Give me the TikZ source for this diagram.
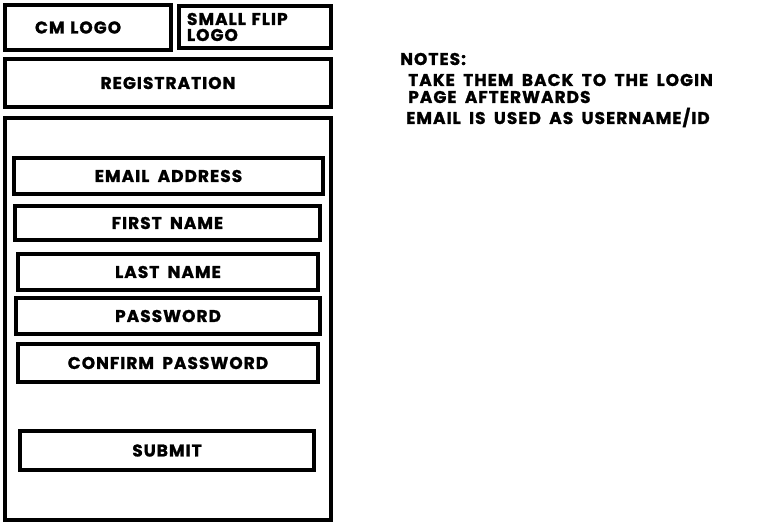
\documentclass[tikz,border=0pt]{standalone}
\usepackage{fontspec}
\setmainfont{Poppins}[LetterSpace=6, WordSpace=1.8, FakeBold=1.2]
\begin{document}
\begin{tikzpicture}[x=1pt, y=-1pt, font=\fontsize{17}{17}\selectfont\bfseries, line join=miter,
	box/.style={draw, line width=4pt, rectangle, inner sep=0pt}]
	\useasboundingbox (0,0) rectangle (765,526);
	% top row
	\node[box, minimum width=166pt, minimum height=45pt, text width=106pt, align=left] (cmlogo) at (88,27.5) {CM LOGO};
	\node[box, minimum width=152pt, minimum height=42pt, text width=136pt, align=left,
		font=\fontsize{17}{16}\selectfont\bfseries] (fliplogo) at (255,27) {SMALL FLIP\\LOGO};
	\node[box, minimum width=326pt, minimum height=48pt] (registration) at (168,83) {REGISTRATION};
	% form panel
	\node[box, minimum width=326pt, minimum height=402pt] (panel) at (168,319) {};
	\foreach \n/\x/\y/\w/\h/\t in {email/168.5/176/309/36/EMAIL ADDRESS,
		first/167.5/223/305/34/FIRST NAME,
		last/168/272/300/36/LAST NAME,
		password/168/316/304/36/PASSWORD,
		confirm/168/363/300/38/CONFIRM PASSWORD,
		submit/167/450.5/294/39/SUBMIT}
		\node[box, minimum width=\w pt, minimum height=\h pt] (\n) at (\x,\y) {\t};
	% notes
	\node[anchor=base west, inner sep=0pt] (notes) at (400,65) {NOTES:};
	\node[anchor=base west, inner sep=0pt, align=left, font=\fontsize{17}{17}\selectfont\bfseries] (note1) at (408,103) {TAKE THEM BACK TO THE LOGIN\\PAGE AFTERWARDS};
	\node[anchor=base west, inner sep=0pt] (note2) at (406,124) {EMAIL IS USED AS USERNAME/ID};
\end{tikzpicture}
\end{document}
